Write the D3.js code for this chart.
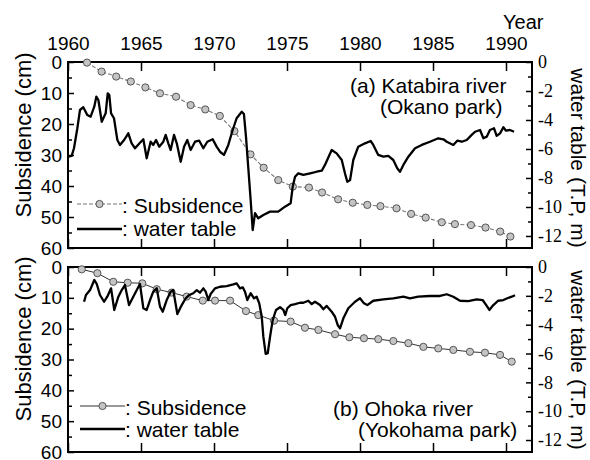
<!DOCTYPE html>
<html><head><meta charset="utf-8">
<script src="https://cdn.jsdelivr.net/npm/d3@7"></script>
<style>
body{margin:0;background:#fff}
svg{display:block}
text{font-family:"Liberation Sans",Arial,Helvetica,sans-serif;fill:#000}
</style>
</head><body>
<svg id="c" width="590" height="460"></svg>
<script>
// ---------------- data ----------------
const yearTicks = [1960, 1965, 1970, 1975, 1980, 1985, 1990];
const subsTicks = [0, 10, 20, 30, 40, 50, 60];
const subsMinor = [5, 15, 25, 35, 45, 55];
const wtTicks = [0, -2, -4, -6, -8, -10, -12];
const wtMinor = [-1, -3, -5, -7, -9, -11];
const legendLabels = [": Subsidence", ": water table"];

// (a) Katabira river (Okano park)
const subsA_year = [1961.3,1962.3,1963.3,1964.3,1965.3,1966.3,1967.4,1968.4,1969.4,1970.4,1971.4,1972.5,1973.4,1974.4,1975.4,1976.5,1977.4,1978.5,1979.5,1980.5,1981.4,1982.5,1983.5,1984.5,1985.6,1986.5,1987.6,1988.6,1989.6,1990.3];
const subsA_cm = [0.2,3.1,4.7,6.3,8.2,10.1,11.2,13.9,15.3,17.4,22.3,29.8,34.1,38.1,40.2,40.5,42.1,44.3,45.4,46.1,46.5,47.2,49.0,50.2,51.7,52.3,52.6,53.4,54.7,56.3];
const wtA_year = [1960.02,1960.25,1960.41,1960.64,1960.82,1961.05,1961.32,1961.55,1961.80,1961.94,1962.08,1962.31,1962.42,1962.58,1962.72,1962.83,1962.95,1963.15,1963.38,1963.56,1963.84,1964.13,1964.36,1964.59,1964.93,1965.16,1965.39,1965.66,1965.84,1966.03,1966.25,1966.53,1966.69,1966.87,1967.03,1967.26,1967.45,1967.72,1967.95,1968.17,1968.40,1968.70,1968.99,1969.27,1969.54,1969.91,1970.18,1970.41,1970.68,1970.98,1971.28,1971.55,1971.90,1972.05,1972.19,1972.35,1972.51,1972.65,1972.81,1973.03,1973.38,1973.84,1974.40,1974.86,1975.25,1975.39,1975.55,1975.77,
 1976.12,1976.58,1977.03,1977.38,1977.60,1978.06,1978.40,1978.75,1978.97,1979.13,1979.32,1979.54,1979.88,1980.34,1980.73,1980.91,1981.25,1981.60,1981.94,1982.28,1982.55,1982.74,1982.97,1983.31,1983.77,1984.23,1984.79,1985.36,1985.71,1985.94,1986.39,1986.66,1986.97,1987.31,1987.65,1987.88,1988.22,1988.45,1988.68,1988.90,1989.18,1989.36,1989.59,1989.82,1990.00,1990.27,1990.55];
const wtA_m = [-6.53,-6.48,-5.95,-4.57,-3.31,-3.12,-3.66,-3.77,-3.08,-2.39,-2.62,-4.12,-3.88,-3.54,-2.16,-2.28,-3.54,-3.88,-5.38,-5.72,-5.38,-4.92,-5.61,-5.95,-5.57,-5.33,-6.64,-5.50,-5.72,-5.38,-5.84,-5.50,-5.03,-5.61,-6.07,-5.03,-5.61,-6.88,-5.84,-5.38,-6.07,-5.50,-5.43,-5.95,-5.50,-5.33,-5.84,-6.19,-6.41,-5.72,-4.69,-3.88,-3.43,-3.59,-5.15,-7.33,-9.52,-11.59,-10.43,-10.78,-10.55,-10.32,-10.32,-9.98,-9.74,-8.60,-7.91,-7.68,
 -7.79,-7.68,-7.57,-7.50,-7.10,-6.07,-6.30,-6.76,-7.68,-8.26,-8.14,-6.76,-5.84,-5.61,-5.45,-5.72,-6.41,-6.53,-6.48,-6.76,-7.33,-7.57,-7.10,-6.53,-5.95,-5.72,-5.50,-5.26,-5.33,-5.50,-5.72,-5.43,-5.50,-5.38,-5.03,-4.81,-4.69,-5.26,-5.15,-4.69,-4.57,-5.10,-4.92,-4.50,-4.74,-4.69,-4.81];

// (b) Ohoka river (Yokohama park)
const subsB_year = [1960.94,1962.01,1963.10,1964.09,1965.09,1966.08,1967.10,1968.13,1969.23,1970.07,1971.10,1972.19,1973.03,1974.11,1975.25,1976.23,1977.15,1978.29,1979.27,1980.27,1981.25,1982.28,1983.31,1984.34,1985.36,1986.39,1987.53,1988.56,1989.59,1990.39];
const subsB_cm = [0.75,2.0,4.8,5.1,5.3,7.2,8.3,9.6,10.9,10.9,10.9,14.3,15.6,17.4,17.7,19.7,20.4,21.8,22.8,23.1,23.4,24.0,24.7,25.9,26.4,26.9,27.5,27.8,28.5,30.7];
const wtB_year = [1961.10,1961.23,1961.51,1961.80,1961.97,1962.19,1962.47,1962.69,1962.95,1963.17,1963.45,1963.68,1963.90,1964.18,1964.47,1964.71,1964.93,1965.16,1965.39,1965.62,1965.84,1966.08,1966.30,1966.49,1966.76,1967.03,1967.21,1967.49,1967.79,1968.06,1968.31,1968.58,1968.82,1969.04,1969.27,1969.43,1969.61,1969.77,1970.07,1970.41,1970.87,1971.32,1971.55,1971.78,1971.97,1972.12,1972.28,1972.51,1972.74,1972.92,1973.10,1973.27,1973.38,1973.54,1973.68,1973.84,1974.02,1974.25,1974.52,1974.75,1974.88,1975.02,1975.25,1975.55,1975.89,
 1976.12,1976.46,1976.69,1976.92,1977.26,1977.49,1977.72,1978.06,1978.29,1978.47,1978.63,1978.86,1979.20,1979.66,1980.00,1980.27,1980.50,1980.91,1981.60,1982.28,1982.97,1983.42,1983.99,1984.79,1985.48,1985.94,1986.39,1986.85,1987.42,1987.99,1988.40,1988.68,1988.86,1989.13,1989.47,1989.82,1990.09,1990.39,1990.62];
const wtB_m = [-2.41,-1.94,-1.60,-0.90,-1.18,-1.94,-2.41,-2.06,-1.48,-2.98,-2.06,-1.60,-1.25,-2.64,-2.06,-1.60,-1.18,-2.86,-2.98,-2.29,-1.71,-1.48,-2.75,-3.10,-2.29,-1.71,-1.60,-3.26,-2.64,-2.17,-1.94,-1.82,-1.60,-1.78,-1.48,-1.71,-2.29,-1.87,-1.48,-1.37,-1.32,-1.20,-1.13,-1.48,-1.41,-1.71,-2.29,-1.82,-2.17,-2.06,-2.52,-3.45,-4.83,-6.03,-5.98,-4.83,-3.68,-2.98,-2.79,-2.98,-3.33,-2.86,-2.64,-2.57,-2.48,
 -2.48,-2.34,-2.57,-2.41,-2.64,-2.93,-2.70,-3.10,-3.45,-4.02,-4.25,-3.56,-2.86,-2.41,-2.17,-2.52,-2.64,-2.34,-2.24,-2.17,-2.06,-2.17,-2.06,-2.01,-2.01,-1.89,-2.06,-2.34,-2.36,-2.24,-2.29,-2.70,-2.98,-2.64,-2.34,-2.29,-2.17,-2.06,-1.96];

// ---------------- drawing ----------------
const svg = d3.select("#c");
const L = 68, R = 532;
const x = d3.scaleLinear().domain([1960, 1991.78]).range([L, R]);

const panels = [
  { top: 62, bottom: 248, sy: subsA_year, sv: subsA_cm, wy: wtA_year, wv: wtA_m,
    label: ["(a) Katabira river", "(Okano park)"], labPos: [[350, 93], [380, 114]],
    leg: { x1: 77, x2: 122, ys: 204, yw: 229, tx: 122, tys: 213, tyw: 236 },
    subsStyle: { stroke: "#777", dash: "4,2", width: 1.1 },
    ltitleY: 135, rtitleY: 158 },
  { top: 267, bottom: 452, sy: subsB_year, sv: subsB_cm, wy: wtB_year, wv: wtB_m,
    label: ["(b) Ohoka river", "(Yokohama park)"], labPos: [[333, 416], [358, 437]],
    leg: { x1: 80, x2: 125, ys: 406, yw: 429, tx: 125, tys: 415, tyw: 437 },
    subsStyle: { stroke: "#333", dash: null, width: 1 },
    ltitleY: 339, rtitleY: 360 }
];

panels.forEach((p, i) => {
  const yL = d3.scaleLinear().domain([0, 60]).range([p.top, p.bottom]);
  const yR = d3.scaleLinear().domain([0, -12.83]).range([p.top, p.bottom]);
  const g = svg.append("g");

  function styleAxis(sel, fontSize, family) {
    sel.select(".domain").remove();
    sel.selectAll("line").attr("stroke", "#000").attr("stroke-width", 1.5);
    sel.selectAll("text").attr("font-size", fontSize).attr("fill", "#000")
      .style("font-family", family);
  }
  const sans = '"Liberation Sans", Arial, sans-serif';
  const serif = '"Liberation Serif", "Times New Roman", serif';

  // left axis
  g.append("g").attr("transform", `translate(${L},0)`)
    .call(d3.axisLeft(yL).tickValues(subsTicks).tickSizeInner(-6).tickSizeOuter(0).tickPadding(6).tickFormat(d3.format("d")))
    .call(s => styleAxis(s, 19, sans));
  g.append("g").attr("transform", `translate(${L},0)`)
    .call(d3.axisLeft(yL).tickValues(subsMinor).tickSizeInner(-4).tickSizeOuter(0).tickFormat(""))
    .call(s => styleAxis(s, 19, sans));

  // right axis
  g.append("g").attr("transform", `translate(${R},0)`)
    .call(d3.axisRight(yR).tickValues(wtTicks).tickSizeInner(-6).tickSizeOuter(0).tickPadding(6)
      .tickFormat(d => d === 0 ? "0" : "-" + Math.abs(d)))
    .call(s => styleAxis(s, 18, serif));
  g.append("g").attr("transform", `translate(${R},0)`)
    .call(d3.axisRight(yR).tickValues(wtMinor).tickSizeInner(-4).tickSizeOuter(0).tickFormat(""))
    .call(s => styleAxis(s, 18, serif));

  // top & bottom x ticks
  g.append("g").attr("transform", `translate(0,${p.top})`)
    .call(d3.axisTop(x).tickValues(yearTicks).tickSizeInner(-9).tickSizeOuter(0).tickPadding(12)
      .tickFormat(i === 0 ? d3.format("d") : ""))
    .call(s => styleAxis(s, 19, sans));
  g.append("g").attr("transform", `translate(0,${p.bottom})`)
    .call(d3.axisBottom(x).tickValues(yearTicks).tickSizeInner(-9).tickSizeOuter(0).tickFormat(""))
    .call(s => styleAxis(s, 19, sans));

  // frame
  g.append("rect").attr("x", L).attr("y", p.top).attr("width", R - L).attr("height", p.bottom - p.top)
    .attr("fill", "none").attr("stroke", "#000").attr("stroke-width", 2);

  // subsidence line + markers
  const sPts = p.sy.map((yr, k) => [yr, p.sv[k]]);
  g.append("path").datum(sPts)
    .attr("d", d3.line().x(d => x(d[0])).y(d => yL(d[1])))
    .attr("fill", "none").attr("stroke", p.subsStyle.stroke).attr("stroke-width", p.subsStyle.width)
    .attr("stroke-dasharray", p.subsStyle.dash);
  g.selectAll(".mk").data(sPts).enter().append("circle")
    .attr("cx", d => x(d[0])).attr("cy", d => yL(d[1])).attr("r", 3.6)
    .attr("fill", "#c4c4c4").attr("stroke", "#555").attr("stroke-width", 1);

  // water table line
  const wPts = p.wy.map((yr, k) => [yr, p.wv[k]]);
  g.append("path").datum(wPts)
    .attr("d", d3.line().x(d => x(d[0])).y(d => yR(d[1])))
    .attr("fill", "none").attr("stroke", "#000").attr("stroke-width", 2.3)
    .attr("stroke-linejoin", "round");

  // panel label
  p.label.forEach((t, k) => {
    g.append("text").attr("x", p.labPos[k][0]).attr("y", p.labPos[k][1])
      .attr("font-size", 21).text(t);
  });

  // legend
  const lg = p.leg;
  g.append("line").attr("x1", lg.x1).attr("x2", lg.x2).attr("y1", lg.ys).attr("y2", lg.ys)
    .attr("stroke", p.subsStyle.stroke).attr("stroke-width", p.subsStyle.width)
    .attr("stroke-dasharray", p.subsStyle.dash);
  g.append("circle").attr("cx", (lg.x1 + lg.x2) / 2).attr("cy", lg.ys).attr("r", 3.6)
    .attr("fill", "#c4c4c4").attr("stroke", "#555").attr("stroke-width", 1);
  g.append("line").attr("x1", lg.x1).attr("x2", lg.x2).attr("y1", lg.yw).attr("y2", lg.yw)
    .attr("stroke", "#000").attr("stroke-width", 2.5);
  g.append("text").attr("x", lg.tx).attr("y", lg.tys).attr("font-size", 21).text(legendLabels[0]);
  g.append("text").attr("x", lg.tx).attr("y", lg.tyw).attr("font-size", 21).text(legendLabels[1]);

  // axis titles
  g.append("text").attr("transform", `translate(31,${p.ltitleY}) rotate(-90)`)
    .attr("text-anchor", "middle").attr("font-size", 22).text("Subsidence (cm)");
  g.append("text").attr("transform", `translate(571,${p.rtitleY}) rotate(90)`)
    .attr("text-anchor", "middle").attr("font-size", 21).text("water table (T.P, m)");
});

svg.append("text").attr("x", 503).attr("y", 29).attr("font-size", 20).text("Year");
</script>
</body></html>
